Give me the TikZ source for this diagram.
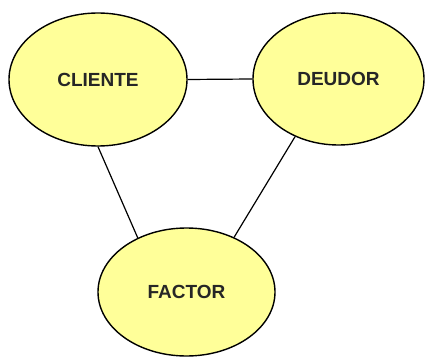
\documentclass[tikz,border=0pt]{standalone}
\usepackage{fontspec}
\setmainfont{Liberation Sans}
\usetikzlibrary{shapes.geometric}
\definecolor{bubble}{HTML}{FFFF99}
\tikzset{
  party/.style={ellipse, draw=black, line width=1.4pt, fill=bubble,
    inner sep=0pt, text=black!85,
    font=\fontsize{19}{22}\selectfont\bfseries},
  link/.style={draw=black, line width=1.2pt}
}
\begin{document}
\begin{tikzpicture}[x=1pt,y=-1pt]
  \useasboundingbox (0,0) rectangle (425,358);
  % the three parties
  \node[party, minimum width=178pt, minimum height=133pt] (cliente) at (98,79.5) {CLIENTE};
  \node[party, minimum width=171pt, minimum height=132pt] (deudor) at (338.5,79) {DEUDOR};
  \node[party, minimum width=177pt, minimum height=128pt] (factor) at (186.5,292) {FACTOR};
  % relations between them
  \draw[link] (cliente.east) -- (deudor.west);
  \draw[link] (cliente.south) -- (factor.132);
  \draw[link] (deudor.233) -- (factor.49);
\end{tikzpicture}
\end{document}
